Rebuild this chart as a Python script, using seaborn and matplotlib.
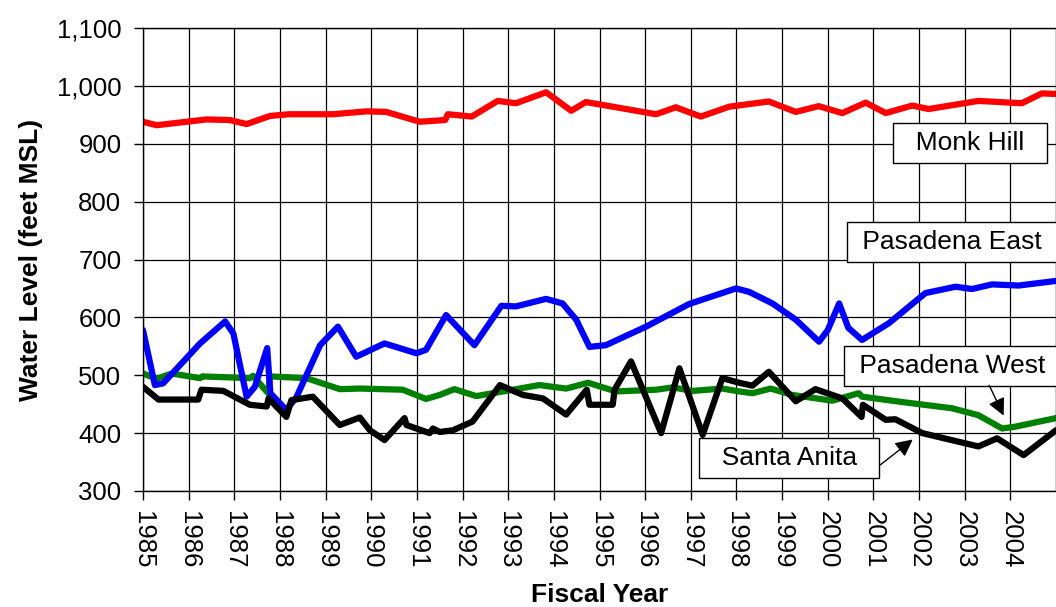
import matplotlib
matplotlib.use("Agg")
import matplotlib.pyplot as plt
import matplotlib.ticker as mticker
import seaborn as sns

# -----------------------------
# DATA
# -----------------------------
monk_x = [1985.0, 1985.3, 1986.39, 1986.9, 1987.27, 1987.78, 1988.2, 1989.16, 1989.9,
          1990.33, 1991.06, 1991.62, 1991.68, 1992.2, 1992.77, 1993.17, 1993.83, 1994.38,
          1994.7, 1995.0, 1996.24, 1996.67, 1997.22, 1997.84, 1998.71, 1999.3, 1999.8,
          2000.32, 2000.83, 2001.27, 2001.85, 2002.21, 2003.3, 2004.25, 2004.69, 2005.0]
monk_y = [938, 932, 942, 941, 934, 948, 951, 951, 956,
          955, 938, 941, 951, 947, 974, 970, 989, 957,
          972, 968, 951, 963, 947, 964, 973, 955, 965,
          953, 971, 953, 966, 960, 974, 970, 987, 986]

east_x = [1985.0, 1985.26, 1985.44, 1986.25, 1986.8, 1986.98, 1987.27, 1987.45, 1987.72,
          1987.79, 1988.14, 1988.36, 1988.88, 1989.27, 1989.67, 1990.29, 1990.99, 1991.2,
          1991.64, 1992.26, 1992.85, 1993.17, 1993.83, 1994.19, 1994.49, 1994.78, 1995.14,
          1996.02, 1996.96, 1997.99, 1998.28, 1998.79, 1999.3, 1999.81, 2000.0, 2000.25,
          2000.45, 2000.75, 2001.34, 2002.14, 2002.8, 2003.16, 2003.6, 2004.18, 2005.0]
east_y = [578, 483, 486, 555, 593, 572, 463, 480, 547,
          469, 440, 462, 552, 584, 532, 555, 538, 544,
          604, 552, 620, 619, 632, 624, 596, 549, 552,
          584, 623, 650, 644, 624, 596, 558, 578, 624,
          582, 561, 590, 642, 653, 649, 657, 655, 663]

west_x = [1985.0, 1985.3, 1985.63, 1986.25, 1986.3, 1987.34, 1987.41, 1987.74, 1987.78,
          1988.58, 1989.31, 1989.75, 1990.69, 1991.2, 1991.5, 1991.82, 1992.3, 1992.81,
          1993.68, 1994.27, 1994.75, 1995.36, 1996.24, 1996.6, 1997.04, 1997.69, 1998.06,
          1998.35, 1998.75, 1999.22, 2000.1, 2000.68, 2000.75, 2001.7, 2002.72, 2003.3,
          2003.82, 2004.1, 2005.0]
west_y = [503, 494, 503, 495, 498, 495, 499, 469, 498,
          495, 476, 477, 475, 459, 466, 476, 464, 471,
          483, 477, 487, 472, 475, 479, 473, 477, 472,
          469, 477, 466, 456, 469, 463, 453, 443, 431,
          408, 411, 426]

anita_x = [1985.0, 1985.34, 1986.21, 1986.28, 1986.76, 1987.34, 1987.71, 1987.75, 1988.14,
           1988.25, 1988.72, 1989.31, 1989.75, 1989.97, 1990.29, 1990.73, 1990.77, 1991.28,
           1991.35, 1991.5, 1991.79, 1992.22, 1992.82, 1993.32, 1993.76, 1994.27, 1994.72,
           1994.78, 1995.29, 1995.33, 1995.69, 1996.35, 1996.75, 1997.26, 1997.69, 1998.06,
           1998.35, 1998.71, 1999.3, 1999.73, 2000.32, 2000.74, 2000.77, 2001.27, 2001.48,
           2002.07, 2003.3, 2003.71, 2004.29, 2005.0]
anita_y = [480, 458, 458, 475, 473, 449, 446, 460, 428,
           457, 463, 414, 427, 405, 388, 426, 414, 400,
           408, 402, 405, 420, 483, 466, 460, 432, 475,
           449, 449, 475, 524, 400, 512, 397, 495, 487,
           482, 506, 455, 476, 460, 428, 449, 423, 424,
           400, 377, 391, 362, 405]

year_ticks = list(range(1985, 2005))
level_ticks = list(range(300, 1101, 100))

# -----------------------------
# STYLE
# -----------------------------
sns.set_style("ticks")
plt.rcParams["font.family"] = ["Liberation Sans", "DejaVu Sans"]
plt.rcParams["text.color"] = "black"
plt.rcParams["axes.labelcolor"] = "black"
plt.rcParams["xtick.color"] = "black"
plt.rcParams["ytick.color"] = "black"

fig = plt.figure(figsize=(10.56, 6.07), dpi=100)
ax = fig.add_axes([143 / 1056, 1 - 491 / 607, 1 - 143 / 1056, 463 / 607])

# -----------------------------
# LINES
# -----------------------------
lw = 4.5
line_kw = dict(lw=lw, sort=False, estimator=None, ax=ax,
               solid_joinstyle="round", solid_capstyle="round")
sns.lineplot(x=west_x, y=west_y, color="#008000", **line_kw)
sns.lineplot(x=east_x, y=east_y, color="#0000FF", **line_kw)
sns.lineplot(x=anita_x, y=anita_y, color="black", **line_kw)
sns.lineplot(x=monk_x, y=monk_y, color="#FF0000", **line_kw)

# -----------------------------
# AXES
# -----------------------------
ax.set_xlim(1985, 2005)
ax.set_ylim(300, 1100)
ax.set_xticks(year_ticks)
ax.set_xticklabels([str(y) for y in year_ticks], rotation=-90, va="top", ha="center")
ax.set_yticks(level_ticks)
ax.yaxis.set_major_formatter(mticker.FuncFormatter(lambda v, p: f"{int(v):,}"))
ax.tick_params(axis="both", labelsize=18.5, direction="out", length=6.5, width=1,
               color="black", labelcolor="black")
ax.tick_params(axis="x", pad=8)
ax.tick_params(axis="y", pad=9)
ax.grid(True, color="black", lw=0.9)
for sp in ax.spines.values():
    sp.set_color("black")
    sp.set_linewidth(1)

ax.set_xlabel("Fiscal Year", fontsize=19, fontweight="bold")
ax.set_ylabel("Water Level (feet MSL)", fontsize=19, fontweight="bold")
ax.xaxis.set_label_coords(0.5, -0.198)
ax.yaxis.set_label_coords(-0.11, 0.5)

# -----------------------------
# LABEL BOXES
# -----------------------------
box = dict(boxstyle="square,pad=0.3", fc="white", ec="black", lw=1)
ax.text(2003.12, 901, "  Monk Hill  ", fontsize=19, ha="center", va="center", bbox=box)
ax.text(2002.72, 730, " Pasadena East ", fontsize=19, ha="center", va="center", bbox=box)
ax.text(2002.72, 516, " Pasadena West ", fontsize=19, ha="center", va="center", bbox=box)
ax.text(1999.15, 357, "  Santa Anita  ", fontsize=19, ha="center", va="center", bbox=box)

arrow = dict(arrowstyle="-|>", color="black", lw=1, mutation_scale=26)
ax.annotate("", xy=(2003.88, 426), xytext=(2003.51, 487), arrowprops=arrow)
ax.annotate("", xy=(2001.91, 392), xytext=(2001.1, 342), arrowprops=arrow)

fig.savefig("out.png", dpi=100)
